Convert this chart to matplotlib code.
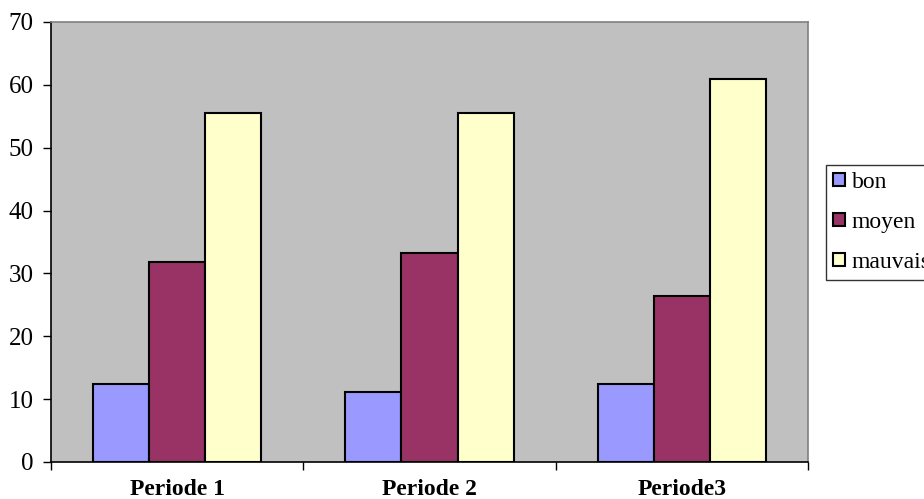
import numpy as np
import matplotlib
matplotlib.use("Agg")
import matplotlib.pyplot as plt

plt.rcParams['font.family'] = 'Liberation Serif'

periods = ["Periode 1", "Periode 2", "Periode3"]
series = ["bon", "moyen", "mauvais"]
bon = [12.4, 11.1, 12.4]
moyen = [31.8, 33.3, 26.4]
mauvais = [55.6, 55.6, 61.0]
colors = ["#9999FF", "#993366", "#FFFFCC"]

fig = plt.figure(figsize=(9.24, 4.99), dpi=100)
ax = fig.add_axes([51/924, 1-462/499, (808-51)/924, (462-22)/499])
ax.set_facecolor("#C0C0C0")

x = np.arange(len(periods))
w = 0.222
for i, (name, vals) in enumerate(zip(series, [bon, moyen, mauvais])):
    ax.bar(x + (i-1)*w, vals, w, color=colors[i], edgecolor="black",
           linewidth=1.5, label=name, zorder=3)

ax.set_xlim(-0.5, 2.5)
ax.set_ylim(0, 70)
ax.set_yticks(range(0, 71, 10))
ax.tick_params(axis='y', labelsize=18, length=6, width=1, direction='out', pad=6.5)
ax.set_xticks([-0.5, 0.5, 1.5, 2.5])
ax.set_xticklabels([])
ax.set_xticks(x, minor=True)
ax.set_xticklabels(periods, minor=True, fontsize=17, fontweight='bold')
ax.tick_params(axis='x', which='major', length=6, width=1, direction='out')
ax.tick_params(axis='x', which='minor', length=0, pad=12)

for s in ['top', 'right']:
    ax.spines[s].set_color("#808080")
    ax.spines[s].set_linewidth(1.2)
for s in ['left', 'bottom']:
    ax.spines[s].set_color("black")
    ax.spines[s].set_linewidth(1.2)

leg = fig.legend(loc='upper left', bbox_to_anchor=(826/924, 1-165/499),
                 fontsize=17, frameon=True, fancybox=False, edgecolor="black",
                 handlelength=0.5, handleheight=0.5, handletextpad=0.3,
                 labelspacing=0.8, borderpad=0.3, borderaxespad=0)
leg.get_frame().set_linewidth(1)
for h in leg.legend_handles:
    h.set_linewidth(1.5)

fig.savefig("out.png", dpi=100)
